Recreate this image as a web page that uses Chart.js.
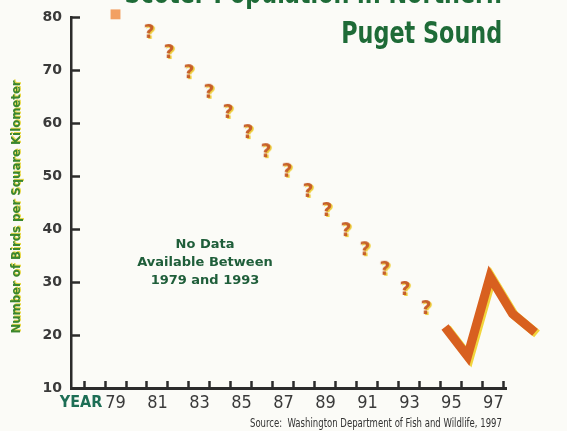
<!DOCTYPE html>
<html>
<head>
<meta charset="utf-8">
<script src="https://cdn.jsdelivr.net/npm/chart.js@4.4.1/dist/chart.umd.min.js"></script>
<style>
  body { margin: 0; background: #fbfbf7; }
  #wrap { position: relative; width: 567px; height: 431px; overflow: hidden; background: #fbfbf7; }
  #chart { position: absolute; left: 0; top: 0; }
  .txt { position: absolute; white-space: nowrap; font-family: 'Liberation Sans Narrow', 'DejaVu Sans Condensed', sans-serif; }
  #title1, #title2 { right: 65px; font-size: 31px; font-weight: bold; line-height: 31px; color: #1e6b37;
                     transform: scaleX(0.8); transform-origin: right center; }
  #title1 { top: -23px; }
  #title2 { top: 17px; }
  #source { right: 65px; top: 417px; font-size: 12px; line-height: 12px; color: #333;
            transform: scaleX(0.79); transform-origin: right center; }
  #ytitle { left: -134px; top: 199px; width: 300px; text-align: center; font-size: 13px; font-weight: bold; line-height: 16px;
            color: #3a862e; text-shadow: 1px 1px 0 #e8d84a; transform: rotate(-90deg); }
  #nodata { left: 105px; top: 235px; width: 200px; text-align: center; font-family: 'DejaVu Sans', sans-serif;
            font-size: 13px; font-weight: bold; line-height: 18px; color: #1f5e3a; }
</style>
</head>
<body>
<div id="wrap">
  <canvas id="chart" width="567" height="431"></canvas>
  <div class="txt" id="title1">Scoter Population in Northern</div>
  <div class="txt" id="title2">Puget Sound</div>
  <div class="txt" id="ytitle">Number of Birds per Square Kilometer</div>
  <div class="txt" id="nodata">No Data<br>Available Between<br>1979 and 1993</div>
  <div class="txt" id="source">Source:&nbsp; Washington Department of Fish and Wildlife, 1997</div>
</div>
<script>
// valor conhecido de 1979
const startYear = [1979];
const startValue = [80.5];

// 1993-1997: linha laranja
const lineYears = [1993, 1994, 1995, 1996, 1997];
const lineValues = [21.5, 16, 31, 24, 20.5];

// pontos de interrogação (sem dados entre 1979 e 1993)
const qYears = [1980.6, 1981.55, 1982.5, 1983.45, 1984.36, 1985.31, 1986.17, 1987.17,
                1988.17, 1989.07, 1989.98, 1990.88, 1991.83, 1992.79, 1993.79];
const qValues = [77.0, 73.2, 69.4, 65.7, 61.9, 58.1, 54.5, 50.8,
                 47.0, 43.4, 39.6, 36.0, 32.3, 28.5, 24.9];

// eixos
const yTicks = [10, 20, 30, 40, 50, 60, 70, 80];
const xLabelYears = [1979, 1981, 1983, 1985, 1987, 1989, 1991, 1993, 1995, 1997];
const xLabels = ['79', '81', '83', '85', '87', '89', '91', '93', '95', '97'];
const yearWordPos = 1977.36;

const tickMarks = [];
for (let y = 1977.5; y <= 1997.5; y++) tickMarks.push(y);

const axisColor = '#2b2b2b';

// desenha o "?" num canvas para usar como pointStyle
function questionMark() {
    const c = document.createElement('canvas');
    c.width = 16; c.height = 22;
    const g = c.getContext('2d');
    g.font = 'bold 19px "DejaVu Sans"';
    g.textAlign = 'center';
    g.textBaseline = 'middle';
    g.fillStyle = '#efd040';
    g.fillText('?', 9.5, 12);
    g.fillStyle = '#c65f2a';
    g.fillText('?', 8, 11);
    return c;
}

const shadowPlugin = {
    id: 'lineShadow',
    beforeDatasetDraw(chart, args) {
        if (args.index !== 2) return;
        const ctx = chart.ctx;
        ctx.save();
        ctx.shadowColor = '#f2d43c';
        ctx.shadowOffsetX = 2;
        ctx.shadowOffsetY = 1.5;
        ctx.shadowBlur = 0;
    },
    afterDatasetDraw(chart, args) {
        if (args.index !== 2) return;
        chart.ctx.restore();
    }
};

const ctx = document.getElementById('chart').getContext('2d');
new Chart(ctx, {
    type: 'scatter',
    data: {
        datasets: [
            {
                data: startYear.map((x, i) => ({ x: x, y: startValue[i] })),
                pointStyle: 'rect',
                pointRadius: 7,
                backgroundColor: '#f2a062',
                borderColor: '#f2a062',
                borderWidth: 0,
                clip: false
            },
            {
                data: qYears.map((x, i) => ({ x: x, y: qValues[i] })),
                pointStyle: questionMark(),
                clip: false
            },
            {
                data: lineYears.map((x, i) => ({ x: x, y: lineValues[i] })),
                xAxisID: 'xl',
                showLine: true,
                borderColor: '#d8601f',
                borderWidth: 9,
                borderJoinStyle: 'miter',
                borderCapStyle: 'butt',
                pointRadius: 0,
                tension: 0,
                clip: false
            }
        ]
    },
    options: {
        responsive: false,
        animation: false,
        layout: { autoPadding: false, padding: { left: 0, top: 17, right: 61, bottom: 0 } },
        plugins: { legend: { display: false }, tooltip: { enabled: false } },
        scales: {
            x: {
                type: 'linear',
                min: 1976.88,
                max: 1997.6,
                afterFit: s => { s.height = 43; s.paddingLeft = 0; s.paddingRight = 0; },
                afterBuildTicks: s => {
                    s.ticks = tickMarks.concat(xLabelYears, [yearWordPos]).map(v => ({ value: v }));
                },
                border: { color: axisColor, width: 3 },
                grid: {
                    drawOnChartArea: false,
                    tickLength: -7,
                    tickWidth: 2.5,
                    color: c => (c.tick && tickMarks.includes(c.tick.value)) ? axisColor : 'rgba(0,0,0,0)'
                },
                ticks: {
                    autoSkip: false,
                    maxRotation: 0,
                    padding: 12,
                    callback: v => {
                        if (v === yearWordPos) return 'YEAR';
                        const i = xLabelYears.indexOf(v);
                        return i >= 0 ? xLabels[i] : '';
                    },
                    color: c => (c.tick && c.tick.value === yearWordPos) ? '#1d6e55' : '#3a3a3a',
                    font: c => (c.tick && c.tick.value === yearWordPos)
                        ? { family: "'Liberation Sans Narrow', 'DejaVu Sans Condensed'", size: 16, weight: 'bold' }
                        : { family: "'Liberation Sans Narrow', 'DejaVu Sans Condensed'", size: 18 }
                }
            },
            // eixo escondido para a linha 1993-1997 (desenhada mais à direita no original)
            xl: {
                type: 'linear',
                display: false,
                bounds: 'data',
                afterDataLimits: s => { s.min = 1976.38; s.max = 1995.71; }
            },
            y: {
                type: 'linear',
                min: 10,
                max: 80,
                afterFit: s => { s.width = 71; s.paddingTop = 0; s.paddingBottom = 0; },
                afterBuildTicks: s => { s.ticks = yTicks.map(v => ({ value: v })); },
                border: { color: axisColor, width: 2.5 },
                grid: {
                    drawOnChartArea: false,
                    tickLength: -9,
                    tickWidth: 2.5,
                    color: axisColor
                },
                ticks: {
                    padding: 18,
                    color: '#3a3a3a',
                    font: { family: "'DejaVu Sans'", size: 14, weight: 'bold' }
                }
            }
        }
    },
    plugins: [shadowPlugin]
});
</script>
</body>
</html>
